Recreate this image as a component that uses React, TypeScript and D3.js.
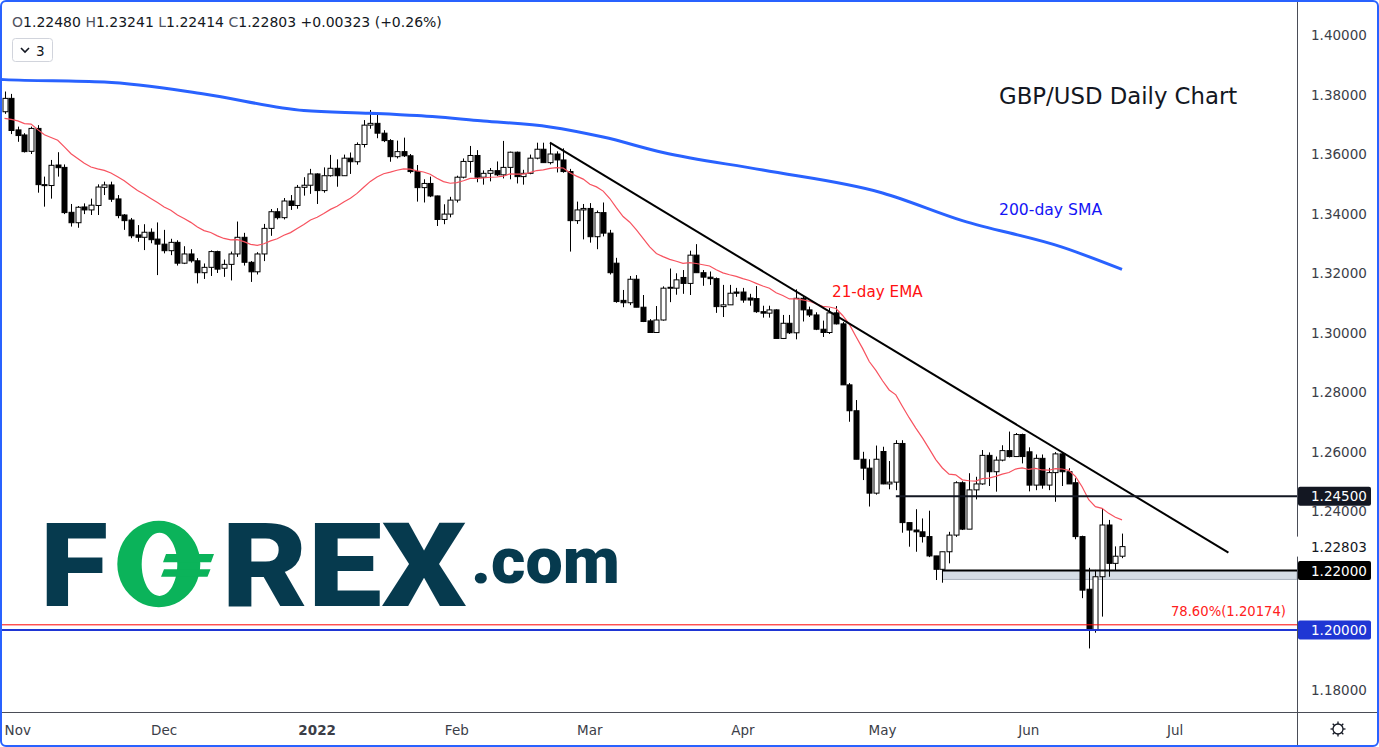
import React from 'react';
import * as d3 from 'd3';

const W = 1379;
const H = 747;
const PLOT_RIGHT = 1297;
const AXIS_Y = 712;

// Daily candles, Oct 28 2021 .. Jun 21 2022 : [open, high, low, close]
const candles: [number, number, number, number][] = [
  [1.3742, 1.3810, 1.3735, 1.3787], [1.3787, 1.3802, 1.3667, 1.3679], [1.3681, 1.3692, 1.3641, 1.3662],
  [1.3664, 1.3670, 1.3605, 1.3608], [1.3609, 1.3692, 1.3600, 1.3686], [1.3686, 1.3697, 1.3470, 1.3497],
  [1.3497, 1.3524, 1.3423, 1.3494], [1.3494, 1.3580, 1.3450, 1.3562], [1.3563, 1.3606, 1.3524, 1.3554],
  [1.3555, 1.3565, 1.3398, 1.3403], [1.3404, 1.3432, 1.3356, 1.3369], [1.3369, 1.3425, 1.3352, 1.3421],
  [1.3422, 1.3434, 1.3398, 1.3412], [1.3412, 1.3450, 1.3395, 1.3428], [1.3427, 1.3498, 1.3395, 1.3489],
  [1.3488, 1.3507, 1.3462, 1.3496], [1.3496, 1.3507, 1.3439, 1.3448], [1.3449, 1.3462, 1.3384, 1.3393],
  [1.3395, 1.3398, 1.3345, 1.3376], [1.3378, 1.3385, 1.3317, 1.3325], [1.3328, 1.3361, 1.3305, 1.3320],
  [1.3320, 1.3364, 1.3277, 1.3337], [1.3337, 1.3350, 1.3300, 1.3312], [1.3314, 1.3370, 1.3193, 1.3297],
  [1.3297, 1.3345, 1.3266, 1.3275], [1.3275, 1.3315, 1.3260, 1.3303], [1.3303, 1.3310, 1.3225, 1.3233],
  [1.3233, 1.3290, 1.3230, 1.3264], [1.3264, 1.3280, 1.3235, 1.3241], [1.3241, 1.3250, 1.3165, 1.3201],
  [1.3201, 1.3232, 1.3180, 1.3219], [1.3219, 1.3276, 1.3190, 1.3272], [1.3272, 1.3275, 1.3200, 1.3213],
  [1.3216, 1.3245, 1.3187, 1.3229], [1.3229, 1.3272, 1.3175, 1.3264], [1.3264, 1.3373, 1.3254, 1.3320],
  [1.3320, 1.3335, 1.3225, 1.3236], [1.3236, 1.3240, 1.3170, 1.3204], [1.3204, 1.3270, 1.3195, 1.3264],
  [1.3264, 1.3365, 1.3240, 1.3350], [1.3350, 1.3415, 1.3325, 1.3406], [1.3406, 1.3418, 1.3380, 1.3386],
  [1.3386, 1.3452, 1.3380, 1.3442], [1.3442, 1.3462, 1.3412, 1.3427], [1.3427, 1.3496, 1.3416, 1.3488],
  [1.3488, 1.3522, 1.3460, 1.3495], [1.3495, 1.3550, 1.3466, 1.3533], [1.3533, 1.3535, 1.3432, 1.3477],
  [1.3477, 1.3555, 1.3470, 1.3527], [1.3527, 1.3597, 1.3524, 1.3552], [1.3552, 1.3582, 1.3490, 1.3527],
  [1.3527, 1.3598, 1.3527, 1.3586], [1.3586, 1.3605, 1.3533, 1.3574], [1.3574, 1.3639, 1.3564, 1.3632],
  [1.3632, 1.3714, 1.3622, 1.3697], [1.3697, 1.3748, 1.3685, 1.3703], [1.3703, 1.3741, 1.3653, 1.3670],
  [1.3670, 1.3680, 1.3640, 1.3645], [1.3645, 1.3650, 1.3574, 1.3591], [1.3591, 1.3645, 1.3585, 1.3608],
  [1.3608, 1.3655, 1.3590, 1.3594], [1.3594, 1.3600, 1.3535, 1.3541], [1.3541, 1.3563, 1.3440, 1.3487],
  [1.3487, 1.3515, 1.3437, 1.3501], [1.3501, 1.3524, 1.3455, 1.3459], [1.3459, 1.3460, 1.3358, 1.3380],
  [1.3380, 1.3431, 1.3364, 1.3398], [1.3398, 1.3456, 1.3387, 1.3445], [1.3445, 1.3527, 1.3437, 1.3522],
  [1.3522, 1.3585, 1.3518, 1.3575], [1.3575, 1.3627, 1.3537, 1.3595], [1.3595, 1.3613, 1.3505, 1.3522],
  [1.3522, 1.3545, 1.3497, 1.3535], [1.3535, 1.3553, 1.3508, 1.3544], [1.3544, 1.3575, 1.3526, 1.3530],
  [1.3530, 1.3644, 1.3518, 1.3555], [1.3555, 1.3608, 1.3515, 1.3606], [1.3606, 1.3608, 1.3501, 1.3524],
  [1.3524, 1.3547, 1.3497, 1.3535], [1.3535, 1.3598, 1.3532, 1.3586], [1.3586, 1.3638, 1.3582, 1.3616],
  [1.3616, 1.3638, 1.3571, 1.3571], [1.3571, 1.3638, 1.3565, 1.3600], [1.3600, 1.3609, 1.3538, 1.3580],
  [1.3580, 1.3619, 1.3537, 1.3541], [1.3541, 1.3550, 1.3272, 1.3376], [1.3376, 1.3440, 1.3365, 1.3412],
  [1.3412, 1.3432, 1.3313, 1.3417], [1.3417, 1.3435, 1.3302, 1.3322], [1.3322, 1.3410, 1.3280, 1.3403],
  [1.3403, 1.3437, 1.3323, 1.3334], [1.3334, 1.3345, 1.3195, 1.3201], [1.3233, 1.3251, 1.3100, 1.3104],
  [1.3108, 1.3143, 1.3085, 1.3100], [1.3100, 1.3190, 1.3092, 1.3179], [1.3179, 1.3193, 1.3085, 1.3085],
  [1.3085, 1.3126, 1.3035, 1.3037], [1.3039, 1.3045, 1.3000, 1.3000], [1.3000, 1.3089, 1.3000, 1.3042],
  [1.3042, 1.3155, 1.3040, 1.3149], [1.3149, 1.3215, 1.3102, 1.3152], [1.3149, 1.3199, 1.3127, 1.3177],
  [1.3185, 1.3210, 1.3130, 1.3165], [1.3165, 1.3275, 1.3126, 1.3260], [1.3260, 1.3297, 1.3201, 1.3201],
  [1.3201, 1.3210, 1.3157, 1.3186], [1.3186, 1.3205, 1.3160, 1.3181], [1.3181, 1.3185, 1.3066, 1.3087],
  [1.3087, 1.3160, 1.3052, 1.3093], [1.3093, 1.3160, 1.3093, 1.3132], [1.3136, 1.3150, 1.3120, 1.3132],
  [1.3136, 1.3150, 1.3100, 1.3109], [1.3116, 1.3130, 1.3090, 1.3109], [1.3114, 1.3156, 1.3066, 1.3070],
  [1.3070, 1.3090, 1.3050, 1.3065], [1.3065, 1.3090, 1.3050, 1.3076], [1.3076, 1.3078, 1.2980, 1.2980],
  [1.2980, 1.3059, 1.2978, 1.3031], [1.3031, 1.3059, 1.2995, 1.2999], [1.2999, 1.3145, 1.2977, 1.3115],
  [1.3115, 1.3123, 1.3037, 1.3076], [1.3076, 1.3087, 1.3052, 1.3059], [1.3059, 1.3068, 1.3008, 1.3011],
  [1.3011, 1.3040, 1.2985, 1.3000], [1.3000, 1.3082, 1.2995, 1.3066], [1.3066, 1.3089, 1.3027, 1.3029],
  [1.3029, 1.3035, 1.2824, 1.2824], [1.2824, 1.2830, 1.2700, 1.2737], [1.2737, 1.2773, 1.2574, 1.2574],
  [1.2574, 1.2599, 1.2504, 1.2544], [1.2544, 1.2574, 1.2415, 1.2460], [1.2460, 1.2620, 1.2455, 1.2574],
  [1.2600, 1.2616, 1.2490, 1.2491], [1.2491, 1.2568, 1.2473, 1.2497], [1.2497, 1.2638, 1.2470, 1.2627],
  [1.2627, 1.2638, 1.2327, 1.2361], [1.2361, 1.2361, 1.2280, 1.2336], [1.2336, 1.2406, 1.2263, 1.2330],
  [1.2330, 1.2375, 1.2294, 1.2314], [1.2314, 1.2401, 1.2245, 1.2249], [1.2249, 1.2249, 1.2168, 1.2204],
  [1.2204, 1.2263, 1.2159, 1.2263], [1.2263, 1.2330, 1.2224, 1.2319], [1.2319, 1.2500, 1.2313, 1.2495],
  [1.2495, 1.2500, 1.2336, 1.2339], [1.2339, 1.2527, 1.2339, 1.2471], [1.2471, 1.2515, 1.2439, 1.2491],
  [1.2491, 1.2605, 1.2488, 1.2587], [1.2587, 1.2597, 1.2484, 1.2532], [1.2532, 1.2583, 1.2465, 1.2571],
  [1.2571, 1.2621, 1.2567, 1.2603], [1.2603, 1.2667, 1.2580, 1.2583], [1.2583, 1.2662, 1.2583, 1.2657],
  [1.2657, 1.2660, 1.2560, 1.2583], [1.2599, 1.2614, 1.2466, 1.2487], [1.2487, 1.2590, 1.2470, 1.2577],
  [1.2577, 1.2590, 1.2475, 1.2487], [1.2487, 1.2545, 1.2470, 1.2529], [1.2529, 1.2598, 1.2431, 1.2592],
  [1.2592, 1.2598, 1.2484, 1.2532], [1.2532, 1.2544, 1.2491, 1.2491], [1.2495, 1.2510, 1.2305, 1.2314],
  [1.2314, 1.2317, 1.2107, 1.2134], [1.2137, 1.2209, 1.1938, 1.2002], [1.2000, 1.2202, 1.1991, 1.2179],
  [1.2179, 1.2409, 1.2045, 1.2353], [1.2353, 1.2370, 1.2179, 1.2224], [1.2224, 1.2281, 1.2200, 1.2248],
  [1.22480, 1.23241, 1.22414, 1.22803],
];

// 200-day SMA: [bar index, value]
const sma200: [number, number][] = [
  [-1, 1.3851], [0, 1.3850], [15, 1.3842], [30, 1.3802], [45, 1.3746], [55, 1.3737], [62, 1.3729],
  [72, 1.3711], [82, 1.3691], [90, 1.3657], [99, 1.3605], [114, 1.3546], [132, 1.3469],
  [144, 1.3376], [159, 1.3287], [168, 1.3212],
];
const emaSeed = 1.3720;
const emaPeriod = 21;

const trendLine: [number, number][] = [[82, 1.3638], [184, 1.2260]];
const level1245 = { from: 134, value: 1.245 };
const level122 = { from: 141, value: 1.22 };
const zone = { from: 141, top: 1.22, bottom: 1.2170 };
const fibLevel = 1.20174;
const level120 = 1.2;

const priceTicks = [1.40, 1.38, 1.36, 1.34, 1.32, 1.30, 1.28, 1.26, 1.24, 1.18];
const monthTicks: { idx: number; label: string; bold?: boolean }[] = [
  { idx: 2, label: 'Nov' }, { idx: 24, label: 'Dec' }, { idx: 47, label: '2022', bold: true },
  { idx: 68, label: 'Feb' }, { idx: 88, label: 'Mar' }, { idx: 111, label: 'Apr' },
  { idx: 132, label: 'May' }, { idx: 154, label: 'Jun' }, { idx: 176, label: 'Jul' },
];
const header = { o: '1.22480', h: '1.23241', l: '1.22414', c: '1.22803', chg: '+0.00323 (+0.26%)' };

const FONT = '"DejaVu Sans", Verdana, sans-serif';

export default function App() {
  const x = d3.scaleLinear().domain([0, candles.length - 1]).range([4.5, 1122]);
  const y = d3.scaleLinear().domain([1.2, 1.4]).range([630, 35]);

  const alpha = 2 / (emaPeriod + 1);
  const ema: [number, number][] = [];
  let e = emaSeed;
  candles.forEach((c, i) => {
    if (i > 0) e = e + alpha * (c[3] - e);
    ema.push([i, e]);
  });

  const lineGen = d3.line<[number, number]>().x(d => x(d[0])).y(d => y(d[1]));
  const smaPath = d3.line<[number, number]>().x(d => x(d[0])).y(d => y(d[1])).curve(d3.curveMonotoneX)(sma200) || '';
  const emaPath = lineGen(ema) || '';
  const trendPath = lineGen(trendLine) || '';

  const bw = 5;
  const last = candles[candles.length - 1][3];

  const axisLabel = (v: number, bg: string, key: string, fg = '#fff') => (
    <g key={key}>
      <rect x={PLOT_RIGHT + 1} y={y(v) - 9.5} width={73} height={19} rx={2} fill={bg} />
      <text x={1311} y={y(v) + 5} fontSize={13.5} fill={fg} fontFamily={FONT}>{v.toFixed(5)}</text>
    </g>
  );

  return (
    <svg width={W} height={H} style={{ position: 'absolute', left: 0, top: 0, background: '#fff' }} fontFamily={FONT}>
      <rect x={0} y={0} width={W} height={H} fill="#fff" />
      <defs>
        <clipPath id="plot"><rect x={0} y={0} width={PLOT_RIGHT} height={AXIS_Y} /></clipPath>
      </defs>

      <g clipPath="url(#plot)">
        {/* support zone */}
        <rect x={x(zone.from)} y={y(zone.top)} width={PLOT_RIGHT - x(zone.from)} height={y(zone.bottom) - y(zone.top)}
          fill="#d6dde5" stroke="#aab3bd" strokeWidth={1} />

        {/* candles */}
        {candles.map((c, i) => {
          const [o, h, l, cl] = c;
          const cx = Math.round(x(i)) + 0.5;
          const up = cl >= o;
          const top = y(Math.max(o, cl));
          const bot = y(Math.min(o, cl));
          return (
            <g key={i}>
              <line x1={cx} x2={cx} y1={y(h)} y2={y(l)} stroke="#000" strokeWidth={1} />
              <rect x={cx - bw / 2} y={top} width={bw} height={Math.max(1, bot - top)}
                fill={up ? '#fff' : '#000'} stroke="#000" strokeWidth={1} />
            </g>
          );
        })}

        {/* moving averages */}
        <path d={emaPath} fill="none" stroke="#f7525f" strokeWidth={1.2} />
        <path d={smaPath} fill="none" stroke="#2962ff" strokeWidth={3} />

        {/* drawings */}
        <path d={trendPath} fill="none" stroke="#000" strokeWidth={2} />
        <line x1={x(level1245.from)} x2={PLOT_RIGHT} y1={y(level1245.value)} y2={y(level1245.value)} stroke="#131722" strokeWidth={2} />
        <line x1={x(level122.from)} x2={PLOT_RIGHT} y1={y(level122.value)} y2={y(level122.value)} stroke="#000" strokeWidth={2} />
        <line x1={0} x2={PLOT_RIGHT} y1={y(fibLevel)} y2={y(fibLevel)} stroke="#ff0000" strokeWidth={1} />
        <line x1={0} x2={PLOT_RIGHT} y1={y(level120)} y2={y(level120)} stroke="#1f36d4" strokeWidth={2.2} />
      </g>

      {/* annotations */}
      <text x={999} y={103.5} fontSize={22.8} fill="#131722">GBP/USD Daily Chart</text>
      <text x={999} y={215} fontSize={15.6} fill="#1414f5">200-day SMA</text>
      <text x={832} y={297} fontSize={15.2} fill="#ff1111">21-day EMA</text>
      <text x={1286} y={615.5} fontSize={13.2} fill="#ff2020" textAnchor="end">{`78.60%(${fibLevel.toFixed(5)})`}</text>

      {/* FOREX.com logo */}
      <g>
        <text x={40} y={606} fontSize={117} fontWeight={900} fontFamily="Roboto, sans-serif" fill="#063a4e"
          textLength={68} lengthAdjust="spacingAndGlyphs">F</text>
        <path fillRule="evenodd" fill="#0bb35a"
          d="M158.8,520.7 a41.5,43.3 0 1,0 0.01,0 Z M159.5,532.7 a17.8,31.6 0 1,1 -0.01,0 Z" />
        <path fill="#0bb35a" d="M166,554 L214,554 L211,562.3 L163,562.3 Z M164,569.3 L210.5,569.3 L207.5,576.7 L161,576.7 Z" />
        <text x={221.4} y={606} fontSize={117} fontWeight={900} fontFamily="Roboto, sans-serif" fill="#063a4e"
          textLength={245} lengthAdjust="spacingAndGlyphs">REX</text>
        <text x={471} y={583.3} fontSize={64} fontWeight={900} fontFamily="Roboto, sans-serif" fill="#063a4e"
          textLength={149} lengthAdjust="spacingAndGlyphs">.com</text>
      </g>

      {/* header */}
      <text x={12} y={26.5} fontSize={14} fill="#131722">
        <tspan fill="#50535e">O</tspan>{header.o}{' '}
        <tspan fill="#50535e">H</tspan>{header.h}{' '}
        <tspan fill="#50535e">L</tspan>{header.l}{' '}
        <tspan fill="#50535e">C</tspan>{header.c}{' '}{header.chg}
      </text>
      <rect x={12.5} y={38.5} width={40} height={23} rx={3} fill="#fff" stroke="#d1d4dc" />
      <path d="M21,48 L25,52 L29,48" fill="none" stroke="#131722" strokeWidth={1.6} />
      <text x={36} y={56} fontSize={13.5} fill="#131722">3</text>

      {/* right price axis */}
      <line x1={PLOT_RIGHT + 0.5} x2={PLOT_RIGHT + 0.5} y1={0} y2={H} stroke="#4a4d57" strokeWidth={1} />
      {priceTicks.map(v => (
        <text key={v} x={1311} y={y(v) + 5} fontSize={13.5} fill="#3b3e48">{v.toFixed(5)}</text>
      ))}
      <rect x={PLOT_RIGHT} y={y(last) - 10} width={78} height={20} fill="#fff" />
      <text x={1311} y={y(last) + 5} fontSize={13.5} fill="#131722">{last.toFixed(5)}</text>
      {axisLabel(level1245.value, '#131722', 'l1')}
      {axisLabel(level122.value, '#000000', 'l2')}
      {axisLabel(level120, '#1f36d4', 'l3')}

      {/* bottom time axis */}
      <line x1={0} x2={W} y1={AXIS_Y + 0.5} y2={AXIS_Y + 0.5} stroke="#4a4d57" strokeWidth={1} />
      {monthTicks.map(t => (
        <text key={t.label} x={x(t.idx)} y={735} fontSize={13.5} textAnchor="middle"
          fill="#3b3e48" fontWeight={t.bold ? 'bold' : 'normal'}>{t.label}</text>
      ))}

      {/* gear icon */}
      <g transform="translate(1338,729)" stroke="#131722" fill="none" strokeWidth={1.3}>
        <circle r={5} />
        {d3.range(8).map(k => {
          const a = (k * Math.PI) / 4;
          return <line key={k} x1={Math.cos(a) * 5} y1={Math.sin(a) * 5} x2={Math.cos(a) * 7.5} y2={Math.sin(a) * 7.5} />;
        })}
      </g>

      {/* frame */}
      <rect x={1} y={1} width={W - 2} height={H - 2} rx={5} fill="none" stroke="#2962ff" strokeWidth={2} />
    </svg>
  );
}
